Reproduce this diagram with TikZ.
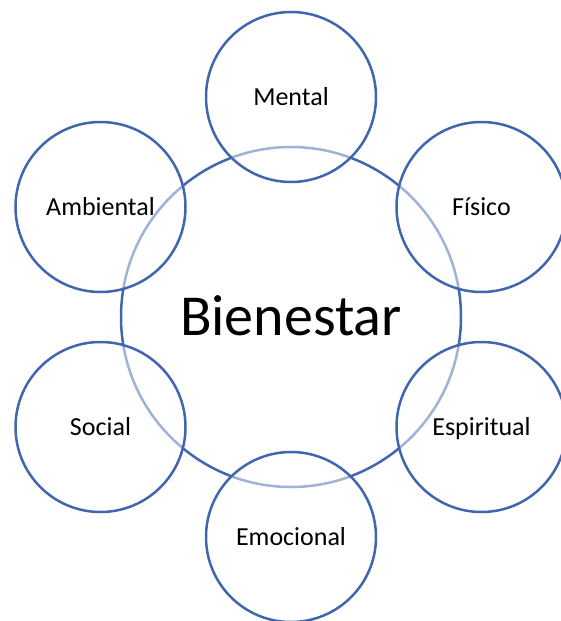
\documentclass[tikz,border=0pt]{standalone}
\usepackage{fontspec}
\setmainfont{Carlito}
\begin{document}
\begin{tikzpicture}[x=1pt,y=-1pt,
  ringcol/.style={draw=ring, line width=2.5pt},
  hub/.style={circle, ringcol, minimum size=340pt, inner sep=0pt, text height=37pt, text depth=0pt, font=\fontsize{58}{60}\selectfont},
  petal/.style={circle, ringcol, fill=white, fill opacity=0.5, text opacity=1, minimum size=170pt, inner sep=0pt, text height=17pt, text depth=0pt, font=\fontsize{26}{28}\selectfont}
]
\definecolor{ring}{HTML}{4166B0}
\useasboundingbox (0,0) rectangle (560,621);
\node[hub] (hub) at (291,317) {Bienestar};
\node[petal] (mental) at (291,97) {Mental};
\node[petal] (fisico) at (481.5,207) {Físico};
\node[petal] (espiritual) at (481.5,427) {Espiritual};
\node[petal] (emocional) at (291,537) {Emocional};
\node[petal] (social) at (100.5,427) {Social};
\node[petal] (ambiental) at (100.5,207) {Ambiental};
\end{tikzpicture}
\end{document}
